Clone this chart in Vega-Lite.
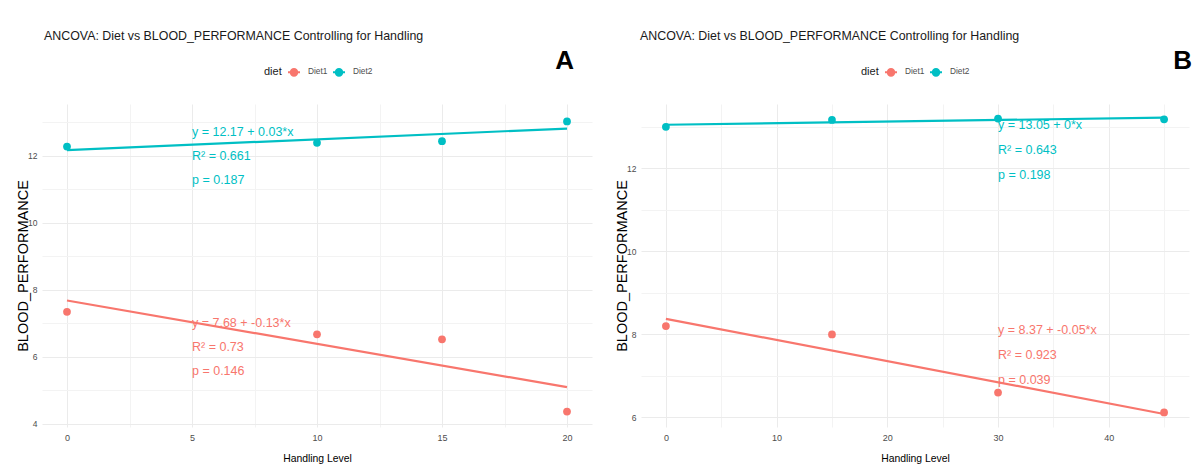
{
  "$schema": "https://vega.github.io/schema/vega-lite/v6.json",
  "background": "white",
  "padding": {"left": 15, "top": 29, "right": 0, "bottom": 0},
  "datasets": {
    "pointsA": [
      {"diet": "Diet1", "handling": 0, "perf": 7.34},
      {"diet": "Diet1", "handling": 10, "perf": 6.67},
      {"diet": "Diet1", "handling": 15, "perf": 6.52},
      {"diet": "Diet1", "handling": 20, "perf": 4.36},
      {"diet": "Diet2", "handling": 0, "perf": 12.28},
      {"diet": "Diet2", "handling": 10, "perf": 12.39},
      {"diet": "Diet2", "handling": 15, "perf": 12.44},
      {"diet": "Diet2", "handling": 20, "perf": 13.03}
    ],
    "notesA": [
      {"diet": "Diet2", "handling": 5, "perf": 12.88, "label": ["y = 12.17 + 0.03*x", "R² = 0.661", "p = 0.187"]},
      {"diet": "Diet1", "handling": 5, "perf": 7.18, "label": ["y = 7.68 + -0.13*x", "R² = 0.73", "p = 0.146"]}
    ],
    "pointsB": [
      {"diet": "Diet1", "handling": 0, "perf": 8.2},
      {"diet": "Diet1", "handling": 15, "perf": 8.0},
      {"diet": "Diet1", "handling": 30, "perf": 6.6},
      {"diet": "Diet1", "handling": 45, "perf": 6.12},
      {"diet": "Diet2", "handling": 0, "perf": 13.0},
      {"diet": "Diet2", "handling": 15, "perf": 13.165},
      {"diet": "Diet2", "handling": 30, "perf": 13.2},
      {"diet": "Diet2", "handling": 45, "perf": 13.18}
    ],
    "notesB": [
      {"diet": "Diet2", "handling": 30, "perf": 13.2, "label": ["y = 13.05 + 0*x", "R² = 0.643", "p = 0.198"]},
      {"diet": "Diet1", "handling": 30, "perf": 8.24, "label": ["y = 8.37 + -0.05*x", "R² = 0.923", "p = 0.039"]}
    ]
  },
  "config": {
    "view": {"stroke": null},
    "font": "Liberation Sans",
    "axis": {
      "domain": false,
      "ticks": false,
      "labelColor": "#4d4d4d",
      "labelFont": "Liberation Sans",
      "labelFontSize": 9,
      "labelPadding": 6,
      "titleFont": "Liberation Sans",
      "titleFontSize": 10.4,
      "titleFontWeight": "normal",
      "titleColor": "#000000"
    },
    "axisY": {"titleFontSize": 14.5, "labelFontSize": 8.5, "labelPadding": 5},
    "legend": {
      "orient": "none",
      "direction": "horizontal",
      "titleOrient": "left",
      "titleFontSize": 11,
      "titleFontWeight": "normal",
      "titleColor": "#1a1a1a",
      "labelFontSize": 8.3,
      "labelColor": "#4d4d4d",
      "labelOffset": 7,
      "columnPadding": 1,
      "titlePadding": 5,
      "symbolType": "M-1,0L1,0M-0.55,0A0.55,0.55,0,1,1,0.55,0A0.55,0.55,0,1,1,-0.55,0Z",
      "symbolSize": 144,
      "symbolStrokeWidth": 2
    },
    "title": {"font": "Liberation Sans", "fontWeight": "normal", "color": "#1a1a1a"}
  },
  "resolve": {"scale": {"color": "independent"}, "legend": {"color": "independent"}},
  "spacing": 22,
  "hconcat": [
    {
      "title": {"text": "A", "anchor": "end", "fontSize": 26, "fontWeight": "bold", "color": "#000000", "dx": -18, "dy": 48},
      "resolve": {"scale": {"color": "independent"}, "legend": {"color": "independent"}},
      "vconcat": [
        {
          "title": {"text": "ANCOVA: Diet vs BLOOD_PERFORMANCE Controlling for Handling", "anchor": "start", "frame": "group", "dx": 2, "fontSize": 12.4, "offset": 23},
          "width": 550,
          "height": 323,
          "encoding": {
            "x": {"field": "handling", "type": "quantitative", "title": "Handling Level",
                  "scale": {"domain": [-1, 21], "nice": false, "zero": false},
                  "axis": {"values": [0, 2.5, 5, 7.5, 10, 12.5, 15, 17.5, 20], "labelExpr": "datum.value % 5 === 0 ? datum.label : ''", "titlePadding": 11,
                           "gridColor": {"condition": {"test": "datum.value % 5 !== 0", "value": "#f3f3f3"}, "value": "#ebebeb"}}},
            "y": {"field": "perf", "type": "quantitative", "title": "BLOOD_PERFORMANCE",
                  "scale": {"domain": [3.9, 13.55], "nice": false, "zero": false},
                  "axis": {"values": [4, 5, 6, 7, 8, 9, 10, 11, 12, 13], "labelExpr": "datum.value % 2 === 0 ? datum.label : ''", "titleX": -12, "titleY": 161.5,
                           "gridColor": {"condition": {"test": "datum.value % 2 !== 0", "value": "#f3f3f3"}, "value": "#ebebeb"}}}
          },
          "layer": [
            {
              "data": {"name": "pointsA"},
              "transform": [{"regression": "perf", "on": "handling", "groupby": ["diet"]}],
              "mark": {"type": "line", "strokeWidth": 2.2},
              "encoding": {"color": {"field": "diet", "type": "nominal", "scale": {"domain": ["Diet1", "Diet2"], "range": ["#F8766D", "#00BFC4"]}}}
            },
            {
              "data": {"name": "pointsA"},
              "mark": {"type": "point", "filled": true, "size": 60, "opacity": 1},
              "encoding": {
                "color": {"field": "diet", "type": "nominal",
                          "scale": {"domain": ["Diet1", "Diet2"], "range": ["#F8766D", "#00BFC4"]},
                          "legend": {"title": "diet", "legendX": 222, "legendY": -39,
                                     "encode": {"symbols": {"update": {"stroke": {"signal": "datum.value === 'Diet1' ? '#F8766D' : '#00BFC4'"}, "fill": {"signal": "datum.value === 'Diet1' ? '#F8766D' : '#00BFC4'"}, "strokeWidth": {"value": 2}, "opacity": {"value": 1}}}}}}
              }
            },
            {
              "data": {"name": "notesA"},
              "mark": {"type": "text", "align": "left", "baseline": "top", "fontSize": 12.5, "lineHeight": 24},
              "encoding": {"text": {"field": "label"}, "color": {"field": "diet", "type": "nominal", "scale": {"domain": ["Diet1", "Diet2"], "range": ["#F8766D", "#00BFC4"]}}}
            }
          ]
        }
      ]
    },
    {
      "title": {"text": "B", "anchor": "end", "fontSize": 26, "fontWeight": "bold", "color": "#000000", "dx": 3, "dy": 48},
      "resolve": {"scale": {"color": "independent"}, "legend": {"color": "independent"}},
      "vconcat": [
        {
          "title": {"text": "ANCOVA: Diet vs BLOOD_PERFORMANCE Controlling for Handling", "anchor": "start", "frame": "group", "dx": -1, "fontSize": 12.4, "offset": 23},
          "width": 548,
          "height": 323,
          "encoding": {
            "x": {"field": "handling", "type": "quantitative", "title": "Handling Level",
                  "scale": {"domain": [-2.25, 47.25], "nice": false, "zero": false},
                  "axis": {"values": [0, 5, 10, 15, 20, 25, 30, 35, 40, 45], "labelExpr": "datum.value % 10 === 0 ? datum.label : ''", "titlePadding": 11,
                           "gridColor": {"condition": {"test": "datum.value % 10 !== 0", "value": "#f3f3f3"}, "value": "#ebebeb"}}},
            "y": {"field": "perf", "type": "quantitative", "title": "BLOOD_PERFORMANCE",
                  "scale": {"domain": [5.77, 13.55], "nice": false, "zero": false},
                  "axis": {"values": [6, 7, 8, 9, 10, 11, 12, 13], "labelExpr": "datum.value % 2 === 0 ? datum.label : ''", "titleX": -12, "titleY": 161.5,
                           "gridColor": {"condition": {"test": "datum.value % 2 !== 0", "value": "#f3f3f3"}, "value": "#ebebeb"}}}
          },
          "layer": [
            {
              "data": {"name": "pointsB"},
              "transform": [{"regression": "perf", "on": "handling", "groupby": ["diet"]}],
              "mark": {"type": "line", "strokeWidth": 2.2},
              "encoding": {"color": {"field": "diet", "type": "nominal", "scale": {"domain": ["Diet1", "Diet2"], "range": ["#F8766D", "#00BFC4"]}}}
            },
            {
              "data": {"name": "pointsB"},
              "mark": {"type": "point", "filled": true, "size": 60, "opacity": 1},
              "encoding": {
                "color": {"field": "diet", "type": "nominal",
                          "scale": {"domain": ["Diet1", "Diet2"], "range": ["#F8766D", "#00BFC4"]},
                          "legend": {"title": "diet", "legendX": 220, "legendY": -39,
                                     "encode": {"symbols": {"update": {"stroke": {"signal": "datum.value === 'Diet1' ? '#F8766D' : '#00BFC4'"}, "fill": {"signal": "datum.value === 'Diet1' ? '#F8766D' : '#00BFC4'"}, "strokeWidth": {"value": 2}, "opacity": {"value": 1}}}}}}
              }
            },
            {
              "data": {"name": "notesB"},
              "mark": {"type": "text", "align": "left", "baseline": "top", "fontSize": 12.5, "lineHeight": 25},
              "encoding": {"text": {"field": "label"}, "color": {"field": "diet", "type": "nominal", "scale": {"domain": ["Diet1", "Diet2"], "range": ["#F8766D", "#00BFC4"]}}}
            }
          ]
        }
      ]
    }
  ]
}
